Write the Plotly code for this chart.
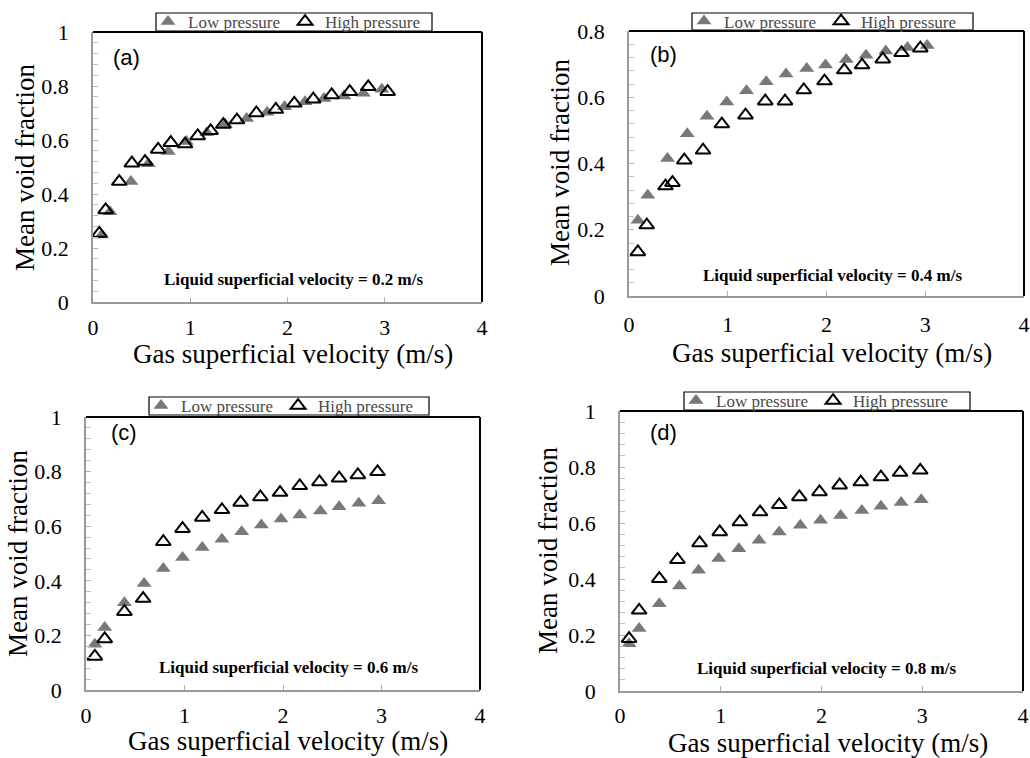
import plotly.graph_objects as go

W, H = 1030, 758

# ---------------- data ----------------
a_low_x = [0.09, 0.175, 0.39, 0.57, 0.775, 0.96, 1.17, 1.36, 1.58, 1.79, 1.97, 2.18, 2.375, 2.58, 2.78, 2.97]
a_low_y = [0.248, 0.334, 0.446, 0.512, 0.557, 0.594, 0.627, 0.658, 0.680, 0.703, 0.723, 0.742, 0.754, 0.763, 0.773, 0.788]
a_high_x = [0.065, 0.13, 0.27, 0.40, 0.535, 0.67, 0.80, 0.946, 1.077, 1.21, 1.34, 1.48, 1.68, 1.88, 2.07, 2.265, 2.454, 2.64, 2.83, 3.03]
a_high_y = [0.254, 0.341, 0.446, 0.514, 0.520, 0.565, 0.590, 0.585, 0.615, 0.634, 0.657, 0.674, 0.700, 0.713, 0.736, 0.751, 0.767, 0.779, 0.797, 0.779]

b_low_x = [0.09, 0.19, 0.39, 0.59, 0.79, 0.99, 1.19, 1.39, 1.59, 1.80, 1.99, 2.20, 2.40, 2.60, 2.82, 3.02]
b_low_y = [0.229, 0.304, 0.415, 0.490, 0.543, 0.586, 0.620, 0.647, 0.670, 0.687, 0.697, 0.714, 0.727, 0.740, 0.750, 0.756]
b_high_x = [0.09, 0.18, 0.37, 0.44, 0.56, 0.75, 0.94, 1.18, 1.38, 1.58, 1.77, 1.98, 2.18, 2.36, 2.57, 2.76, 2.95]
b_high_y = [0.133, 0.214, 0.332, 0.342, 0.410, 0.440, 0.519, 0.546, 0.588, 0.588, 0.622, 0.649, 0.682, 0.697, 0.715, 0.734, 0.748]

c_low_x = [0.09, 0.19, 0.39, 0.59, 0.785, 0.98, 1.18, 1.38, 1.58, 1.78, 1.98, 2.17, 2.38, 2.57, 2.77, 2.97]
c_low_y = [0.168, 0.229, 0.320, 0.390, 0.445, 0.485, 0.522, 0.552, 0.580, 0.604, 0.626, 0.641, 0.656, 0.671, 0.684, 0.693]
c_high_x = [0.09, 0.19, 0.39, 0.58, 0.785, 0.98, 1.18, 1.38, 1.57, 1.77, 1.97, 2.17, 2.37, 2.57, 2.76, 2.96]
c_high_y = [0.123, 0.187, 0.287, 0.335, 0.543, 0.591, 0.632, 0.660, 0.687, 0.707, 0.723, 0.748, 0.762, 0.776, 0.788, 0.799]

d_low_x = [0.09, 0.19, 0.39, 0.59, 0.78, 0.98, 1.18, 1.38, 1.58, 1.79, 1.99, 2.19, 2.40, 2.59, 2.79, 2.99]
d_low_y = [0.169, 0.223, 0.312, 0.375, 0.431, 0.473, 0.508, 0.538, 0.568, 0.592, 0.610, 0.627, 0.645, 0.660, 0.673, 0.683]
d_high_x = [0.09, 0.19, 0.39, 0.57, 0.79, 0.99, 1.19, 1.39, 1.58, 1.78, 1.98, 2.18, 2.39, 2.59, 2.78, 2.98]
d_high_y = [0.187, 0.288, 0.401, 0.469, 0.529, 0.568, 0.604, 0.639, 0.665, 0.693, 0.711, 0.735, 0.746, 0.764, 0.780, 0.788]

panel_labels = ["(a)", "(b)", "(c)", "(d)"]
liquid_velocity = ["0.2", "0.4", "0.6", "0.8"]
y_max = [1.0, 0.8, 1.0, 1.0]
series_names = ["Low pressure", "High pressure"]
x_title = "Gas superficial velocity (m/s)"
y_title = "Mean void fraction"

low_data = [(a_low_x, a_low_y), (b_low_x, b_low_y), (c_low_x, c_low_y), (d_low_x, d_low_y)]
high_data = [(a_high_x, a_high_y), (b_high_x, b_high_y), (c_high_x, c_high_y), (d_high_x, d_high_y)]

# ---------------- layout geometry (pixels) ----------------
plot_box = [(93, 482, 32, 302), (629, 1024, 31, 296), (86, 480, 417, 690), (620, 1023, 411, 691)]
legend_box = [(156, 432, 13, 31), (692, 973, 13, 30), (149, 429, 397, 415), (684, 970, 392, 410)]
label_pos = [(126, 57), (663, 54), (124, 432), (663, 432)]
note_pos = [(293, 279), (832, 275), (288, 667), (826, 668)]
xtitle_pos = [(293, 354), (832, 353), (288, 741), (828, 743)]
ytitle_pos = [(25, 168), (560, 163), (18, 554), (548, 551)]
x_standoff = [5, 8, 5, 4]


def px(x):
    return x / W


def py(y):
    return 1 - y / H


SERIF = "Liberation Serif"
SANS = "Liberation Sans"
GRAY_MARK = "#787878"

fig = go.Figure()
layout = dict(
    width=W, height=H, margin=dict(l=0, r=0, t=0, b=0, pad=0, autoexpand=False),
    paper_bgcolor="white", plot_bgcolor="white",
    showlegend=True, shapes=[], annotations=[],
)

for i in range(4):
    n = "" if i == 0 else str(i + 1)
    xa, ya = "x" + n, "y" + n
    lg = "legend" + n
    x0, x1, y0, y1 = plot_box[i]
    fig.add_trace(go.Scatter(
        x=low_data[i][0], y=low_data[i][1], mode="markers", name=series_names[0],
        xaxis=xa, yaxis=ya, legend=lg,
        marker=dict(symbol="triangle-up", size=13, color=GRAY_MARK, line=dict(width=0)),
    ))
    fig.add_trace(go.Scatter(
        x=high_data[i][0], y=high_data[i][1], mode="markers", name=series_names[1],
        xaxis=xa, yaxis=ya, legend=lg,
        marker=dict(symbol="triangle-up-open", size=13, color="black", line=dict(width=2, color="black")),
    ))
    layout["xaxis" + n] = dict(
        domain=[px(x0), px(x1)], anchor=ya, range=[0, 4], dtick=1, tick0=0,
        showline=True, linecolor="#9a9a9a", linewidth=1.5, mirror=False,
        ticks="inside", ticklen=5, tickcolor="#b0b0b0", tickwidth=1,
        showgrid=False, zeroline=False, fixedrange=True,
        tickfont=dict(family=SERIF, size=22, color="black"),
        ticklabelstandoff=x_standoff[i],
    )
    layout["yaxis" + n] = dict(
        domain=[py(y1), py(y0)], anchor=xa, range=[0, y_max[i]], dtick=0.2, tick0=0,
        showline=True, linecolor="#9a9a9a", linewidth=1.5, mirror=False,
        ticks="inside", ticklen=5, tickcolor="#b0b0b0", tickwidth=1,
        minor=dict(dtick=0.04, ticks="inside", ticklen=5, tickcolor="#c0c0c0", tickwidth=1, showgrid=False),
        showgrid=False, zeroline=False, fixedrange=True,
        tickfont=dict(family=SERIF, size=22, color="black"),
        ticklabelstandoff=18,
    )
    # top and right borders in black
    layout["shapes"].append(dict(type="line", xref=xa + " domain", yref=ya + " domain",
                                 x0=0, x1=1, y0=1, y1=1, line=dict(color="black", width=2)))
    layout["shapes"].append(dict(type="line", xref=xa + " domain", yref=ya + " domain",
                                 x0=1, x1=1, y0=0, y1=1, line=dict(color="black", width=2)))
    # legend frame
    lx0, lx1, ly0, ly1 = legend_box[i]
    layout["shapes"].append(dict(type="rect", xref="paper", yref="paper", layer="above",
                                 x0=px(lx0), x1=px(lx1), y0=py(ly1), y1=py(ly0),
                                 fillcolor="white", line=dict(color="black", width=1.2)))
    layout[lg] = dict(
        orientation="h", x=px(lx0 - 8), xanchor="left", y=py((ly0 + ly1) / 2), yanchor="middle",
        bgcolor="rgba(0,0,0,0)", borderwidth=0, itemclick=False, itemdoubleclick=False,
        font=dict(family=SERIF, size=17, color="#4a4a4a"), tracegroupgap=0,
    )
    # texts
    lbx, lby = label_pos[i]
    layout["annotations"].append(dict(text=panel_labels[i], x=px(lbx), y=py(lby), xref="paper", yref="paper",
                                      showarrow=False, xanchor="center", yanchor="middle",
                                      font=dict(family=SANS, size=22, color="black")))
    nx, ny = note_pos[i]
    layout["annotations"].append(dict(text="<b>Liquid superficial velocity = %s m/s</b>" % liquid_velocity[i],
                                      x=px(nx), y=py(ny), xref="paper", yref="paper",
                                      showarrow=False, xanchor="center", yanchor="middle",
                                      font=dict(family=SERIF, size=17, color="black")))
    tx, ty = xtitle_pos[i]
    layout["annotations"].append(dict(text=x_title, x=px(tx), y=py(ty), xref="paper", yref="paper",
                                      showarrow=False, xanchor="center", yanchor="middle",
                                      font=dict(family=SERIF, size=27, color="black")))
    yx, yy = ytitle_pos[i]
    layout["annotations"].append(dict(text=y_title, x=px(yx), y=py(yy), xref="paper", yref="paper",
                                      showarrow=False, xanchor="center", yanchor="middle", textangle=-90,
                                      font=dict(family=SERIF, size=27, color="black")))

fig.update_layout(**layout)
fig.write_html("out.html")
